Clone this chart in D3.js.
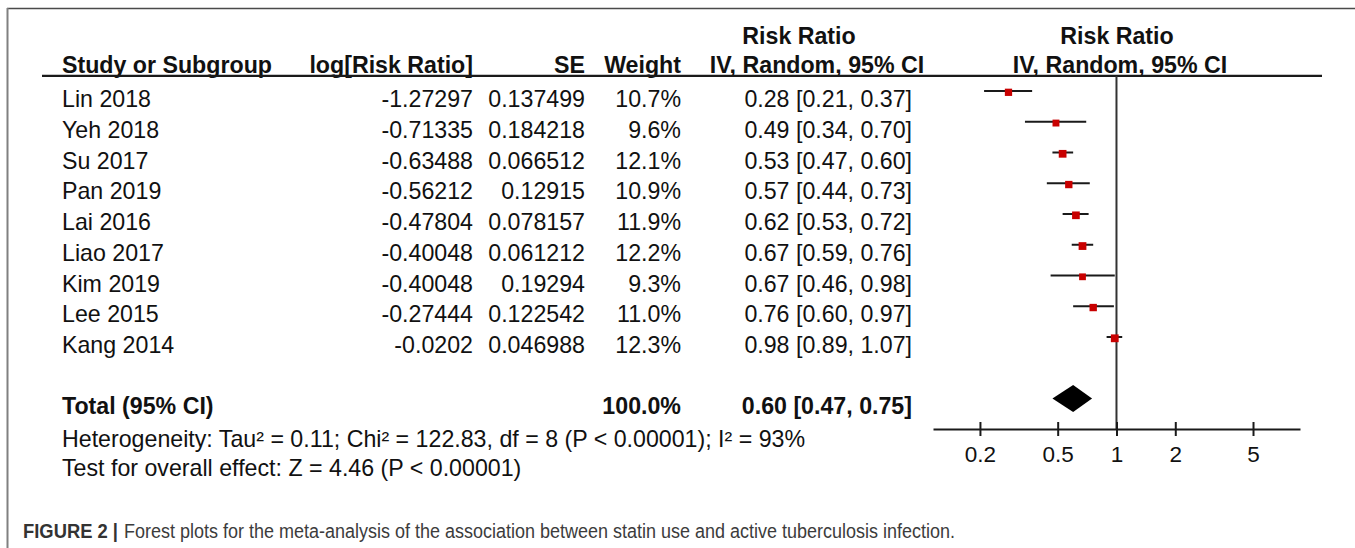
<!DOCTYPE html>
<html>
<head>
<meta charset="utf-8">
<script src="https://cdn.jsdelivr.net/npm/d3@7"></script>
<style>
  html, body { margin: 0; padding: 0; background: #fff; }
  svg { display: block; font-family: "Liberation Sans", Arial, Helvetica, sans-serif; }
  text { fill: #111; }
</style>
</head>
<body>
<svg id="chart" width="1355" height="548"></svg>
<script>
// ---------------- data ----------------
const studies  = ["Lin 2018", "Yeh 2018", "Su 2017", "Pan 2019", "Lai 2016", "Liao 2017", "Kim 2019", "Lee 2015", "Kang 2014"];
const logRR    = ["-1.27297", "-0.71335", "-0.63488", "-0.56212", "-0.47804", "-0.40048", "-0.40048", "-0.27444", "-0.0202"];
const seVals   = ["0.137499", "0.184218", "0.066512", "0.12915", "0.078157", "0.061212", "0.19294", "0.122542", "0.046988"];
const weights  = [10.7, 9.6, 12.1, 10.9, 11.9, 12.2, 9.3, 11.0, 12.3];
const rr       = [0.28, 0.49, 0.53, 0.57, 0.62, 0.67, 0.67, 0.76, 0.98];
const lower    = [0.21, 0.34, 0.47, 0.44, 0.53, 0.59, 0.46, 0.60, 0.89];
const upper    = [0.37, 0.70, 0.60, 0.73, 0.72, 0.76, 0.98, 0.97, 1.07];
const total    = { label: "Total (95% CI)", weight: 100.0, rr: 0.60, lower: 0.47, upper: 0.75 };
const tickVals   = [0.2, 0.5, 1, 2, 5];
const tickLabels = ["0.2", "0.5", "1", "2", "5"];
const hetText  = "Heterogeneity: Tau\u00B2 = 0.11; Chi\u00B2 = 122.83, df = 8 (P < 0.00001); I\u00B2 = 93%";
const testText = "Test for overall effect: Z = 4.46 (P < 0.00001)";
const captionBold = "FIGURE 2 |";
const captionText = "Forest plots for the meta-analysis of the association between statin use and active tuberculosis infection.";

// ---------------- layout ----------------
const svg = d3.select("#chart");
const FS = 23.2;
const f2 = d3.format(".2f");

// frame
svg.append("line").attr("x1", 7).attr("x2", 1355).attr("y1", 8.5).attr("y2", 8.5)
   .attr("stroke", "#4a4a4a").attr("stroke-width", 1.6);
svg.append("line").attr("x1", 7.5).attr("x2", 7.5).attr("y1", 8).attr("y2", 548)
   .attr("stroke", "#808080").attr("stroke-width", 2);

// scales
const x = d3.scaleLog().domain([0.115, 8.7]).range([933, 1300]);
const y = d3.scaleLinear().domain([0, 8]).range([91, 337]);
const side = d3.scaleSqrt().domain([0, 12.3]).range([0, 7.8]);

// headers
const hdr = svg.append("g").attr("font-weight", "bold").attr("font-size", FS);
hdr.append("text").attr("x", 62).attr("y", 73).text("Study or Subgroup");
hdr.append("text").attr("x", 473).attr("y", 73).attr("text-anchor", "end").text("log[Risk Ratio]");
hdr.append("text").attr("x", 585).attr("y", 73).attr("text-anchor", "end").text("SE");
hdr.append("text").attr("x", 681).attr("y", 73).attr("text-anchor", "end").text("Weight");
hdr.append("text").attr("x", 799).attr("y", 44).attr("text-anchor", "middle").text("Risk Ratio");
hdr.append("text").attr("x", 817).attr("y", 73).attr("text-anchor", "middle").text("IV, Random, 95% CI");
hdr.append("text").attr("x", 1117).attr("y", 44).attr("text-anchor", "middle").text("Risk Ratio");
hdr.append("text").attr("x", 1120).attr("y", 73).attr("text-anchor", "middle").text("IV, Random, 95% CI");

// header rule
svg.append("line").attr("x1", 42).attr("x2", 1322).attr("y1", 75.8).attr("y2", 75.8)
   .attr("stroke", "#1a1a1a").attr("stroke-width", 2.2);

// study rows text
const rows = svg.append("g").attr("font-size", FS);
const idx = d3.range(studies.length);
const TOFF = 16;
rows.selectAll(".nm").data(idx).join("text").attr("x", 62).attr("y", i => y(i) + TOFF).text(i => studies[i]);
rows.selectAll(".lr").data(idx).join("text").attr("x", 473).attr("text-anchor", "end").attr("y", i => y(i) + TOFF).text(i => logRR[i]);
rows.selectAll(".se").data(idx).join("text").attr("x", 585).attr("text-anchor", "end").attr("y", i => y(i) + TOFF).text(i => seVals[i]);
rows.selectAll(".wt").data(idx).join("text").attr("x", 681).attr("text-anchor", "end").attr("y", i => y(i) + TOFF).text(i => weights[i].toFixed(1) + "%");
rows.selectAll(".ci").data(idx).join("text").attr("x", 912).attr("text-anchor", "end").attr("y", i => y(i) + TOFF)
    .text(i => `${f2(rr[i])} [${f2(lower[i])}, ${f2(upper[i])}]`);

// total row
const ty = y(10);
const tot = svg.append("g").attr("font-size", FS).attr("font-weight", "bold");
tot.append("text").attr("x", 62).attr("y", ty + 15).text(total.label);
tot.append("text").attr("x", 681).attr("y", ty + 15).attr("text-anchor", "end").text(total.weight.toFixed(1) + "%");
tot.append("text").attr("x", 912).attr("y", ty + 15).attr("text-anchor", "end")
   .text(`${f2(total.rr)} [${f2(total.lower)}, ${f2(total.upper)}]`);

svg.append("text").attr("font-size", FS).attr("x", 62).attr("y", 447).text(hetText);
svg.append("text").attr("font-size", FS).attr("x", 62).attr("y", 476).text(testText);

// vertical null line
const axisY = 429;
svg.append("line").attr("x1", x(1)).attr("x2", x(1)).attr("y1", 76).attr("y2", axisY)
   .attr("stroke", "#333").attr("stroke-width", 2);

// CI lines and markers
const forest = svg.append("g");
forest.selectAll(".cil").data(idx).join("line")
  .attr("x1", i => x(lower[i])).attr("x2", i => x(upper[i]))
  .attr("y1", i => y(i)).attr("y2", i => y(i))
  .attr("stroke", "#1a1a1a").attr("stroke-width", 2);
forest.selectAll(".mk").data(idx).join("rect")
  .attr("x", i => x(rr[i]) - side(weights[i]) / 2)
  .attr("y", i => y(i) + 1.3 - side(weights[i]) / 2)
  .attr("width", i => side(weights[i])).attr("height", i => side(weights[i]))
  .attr("fill", "#c80000");

// diamond
const dh = 13.5;
svg.append("path")
  .attr("d", `M${x(total.lower)},${ty} L${x(total.rr)},${ty - dh} L${x(total.upper)},${ty} L${x(total.rr)},${ty + dh} Z`)
  .attr("fill", "#000");

// axis
const ax = svg.append("g").attr("transform", `translate(0,${axisY})`)
  .call(d3.axisBottom(x).tickValues(tickVals).tickFormat((d, i) => tickLabels[i])
        .tickSizeOuter(0).tickSizeInner(7).tickPadding(10));
ax.select(".domain").attr("stroke", "#1a1a1a").attr("stroke-width", 2);
ax.selectAll(".tick line").attr("y1", -7).attr("y2", 7).attr("stroke", "#1a1a1a").attr("stroke-width", 2);
ax.selectAll(".tick text").attr("font-size", 22.5).attr("fill", "#111")
  .attr("font-family", '"Liberation Sans", Arial, sans-serif');

// caption
svg.append("text").attr("x", 23).attr("y", 538).attr("font-size", 20).attr("font-weight", "bold")
   .attr("textLength", 95).attr("lengthAdjust", "spacingAndGlyphs")
   .style("fill", "#333").text(captionBold);
svg.append("text").attr("x", 124).attr("y", 538).attr("font-size", 20)
   .attr("textLength", 831).attr("lengthAdjust", "spacingAndGlyphs")
   .style("fill", "#3c3c3c").text(captionText);
</script>
</body>
</html>
